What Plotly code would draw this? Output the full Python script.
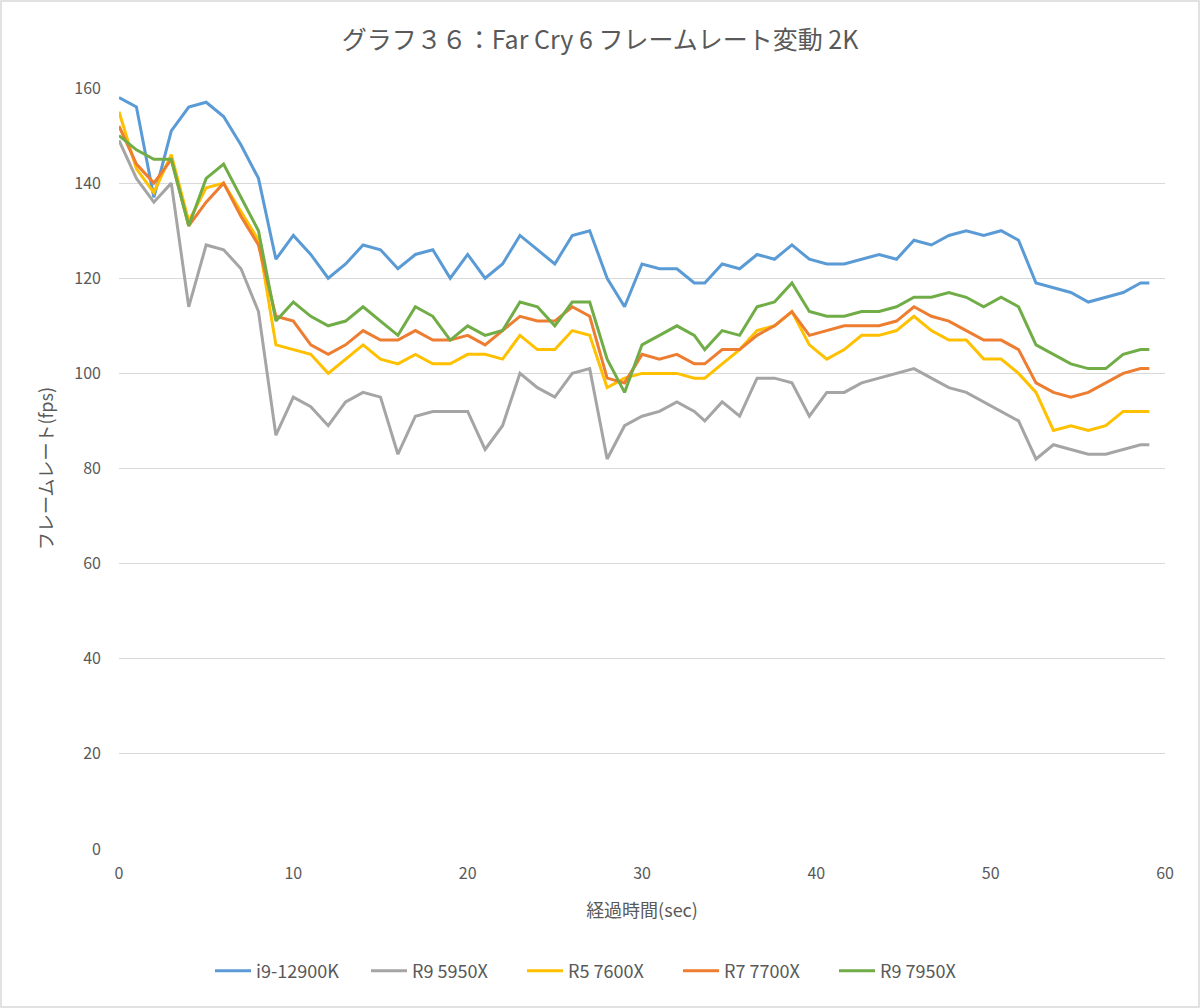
import plotly.graph_objects as go

# elapsed time (sec) of each sample
time_sec = [0, 1, 2, 3, 4, 5, 6, 7, 8, 9, 10, 11, 12, 13, 14, 15, 16, 17, 18, 19,
            20, 21, 22, 23, 24, 25, 26, 27, 28, 29, 30, 31, 32, 33,
            33.6, 34.6, 35.6, 36.6, 37.6, 38.6, 39.6, 40.6, 41.6, 42.6, 43.6, 44.6,
            45.6, 46.6, 47.6, 48.6, 49.6, 50.6, 51.6, 52.6, 53.6, 54.6, 55.6, 56.6,
            57.6, 58.6, 59.1]

i9_12900k = [158, 156, 137, 151, 156, 157, 154, 148, 141,
             124, 129, 125, 120, 123, 127, 126, 122, 125, 126, 120, 125, 120,
             123, 129, 126, 123, 129, 130, 120, 114, 123, 122, 122, 119,
             119, 123, 122, 125, 124, 127,
             124, 123, 123, 124, 125, 124, 128, 127, 129, 130, 129, 130, 128,
             119, 118, 117, 115, 116, 117, 119, 119]

r9_5950x = [149, 141, 136, 140, 114, 127, 126, 122, 113,
            87, 95, 93, 89, 94, 96, 95, 83, 91, 92, 92, 92, 84,
            89, 100, 97, 95, 100, 101, 82, 89, 91, 92, 94, 92,
            90, 94, 91, 99, 99, 98,
            91, 96, 96, 98, 99, 100, 101, 99, 97, 96, 94, 92, 90,
            82, 85, 84, 83, 83, 84, 85, 85]

r5_7600x = [155, 143, 138, 146, 132, 139, 140, 134, 128,
            106, 105, 104, 100, 103, 106, 103, 102, 104, 102, 102, 104, 104,
            103, 108, 105, 105, 109, 108, 97, 99, 100, 100, 100, 99,
            99, 102, 105, 109, 110, 113,
            106, 103, 105, 108, 108, 109, 112, 109, 107, 107, 103, 103, 100,
            96, 88, 89, 88, 89, 92, 92, 92]

r7_7700x = [152, 144, 140, 145, 131, 136, 140, 133, 127,
            112, 111, 106, 104, 106, 109, 107, 107, 109, 107, 107, 108, 106,
            109, 112, 111, 111, 114, 112, 99, 98, 104, 103, 104, 102,
            102, 105, 105, 108, 110, 113,
            108, 109, 110, 110, 110, 111, 114, 112, 111, 109, 107, 107, 105,
            98, 96, 95, 96, 98, 100, 101, 101]

r9_7950x = [150, 147, 145, 145, 131, 141, 144, 137, 130,
            111, 115, 112, 110, 111, 114, 111, 108, 114, 112, 107, 110, 108,
            109, 115, 114, 110, 115, 115, 103, 96, 106, 108, 110, 108,
            105, 109, 108, 114, 115, 119,
            113, 112, 112, 113, 113, 114, 116, 116, 117, 116, 114, 116, 114,
            106, 104, 102, 101, 101, 104, 105, 105]

series_names = ["i9-12900K", "R9 5950X", "R5 7600X", "R7 7700X", "R9 7950X"]
series_values = [i9_12900k, r9_5950x, r5_7600x, r7_7700x, r9_7950x]
series_colors = ["#5B9BD5", "#A5A5A5", "#FFC000", "#ED7D31", "#70AD47"]

x_ticks = [0, 10, 20, 30, 40, 50, 60]
y_ticks = [0, 20, 40, 60, 80, 100, 120, 140, 160]

title_text = "グラフ３６：Far Cry 6 フレームレート変動 2K"
x_title = "経過時間(sec)"
y_title = "フレームレート(fps)"

FONT = "Noto Sans CJK JP"
TXT = "#595959"

fig = go.Figure()
for name, vals, col in zip(series_names, series_values, series_colors):
    fig.add_trace(go.Scatter(x=time_sec, y=vals, name=name, mode="lines",
                             line=dict(color=col, width=3)))

W, H = 1200, 1008
L, R, T, B = 119, 35, 88, 159
pw, ph = W - L - R, H - T - B

fig.update_layout(
    width=W, height=H,
    margin=dict(l=L, r=R, t=T, b=B),
    paper_bgcolor="white", plot_bgcolor="white",
    font=dict(family=FONT, color=TXT, size=16),
    title=dict(text=title_text, x=0.5, xref="container", xanchor="center",
               y=1 - 40 / H, yref="container", yanchor="middle",
               font=dict(size=25, color=TXT, family=FONT)),
    xaxis=dict(range=[0, 60], tickvals=x_ticks, showgrid=False, zeroline=False,
               showline=False, ticks="", tickfont=dict(size=16, color=TXT),
               ticklabelstandoff=13,
               title=dict(text=x_title, font=dict(size=18, color=TXT), standoff=21)),
    yaxis=dict(range=[0, 160], tickvals=y_ticks, showgrid=True, gridcolor="#D9D9D9",
               gridwidth=1.3, zeroline=False, showline=False, ticks="",
               tickfont=dict(size=16, color=TXT), ticklabelstandoff=17,
               title=dict(text=y_title, font=dict(size=18, color=TXT), standoff=16)),
    legend=dict(orientation="h", x=(600 - L) / pw, xanchor="center",
                y=-(971 - (T + ph)) / ph, yanchor="middle",
                font=dict(size=18, color=TXT), itemwidth=36,
                entrywidth=105, entrywidthmode="pixels",
                traceorder="normal"),
    showlegend=True,
)

fig.add_shape(type="rect", xref="paper", yref="paper",
              x0=-(L - 1) / pw, x1=1 + (R - 1) / pw,
              y0=-(B - 1) / ph, y1=1 + (T - 1) / ph,
              line=dict(color="#D9D9D9", width=1.5), fillcolor="rgba(0,0,0,0)",
              layer="below")

fig.write_html("out.html", config={"displayModeBar": False},
               post_script="document.body.style.margin='0';document.body.style.overflow='hidden';")
